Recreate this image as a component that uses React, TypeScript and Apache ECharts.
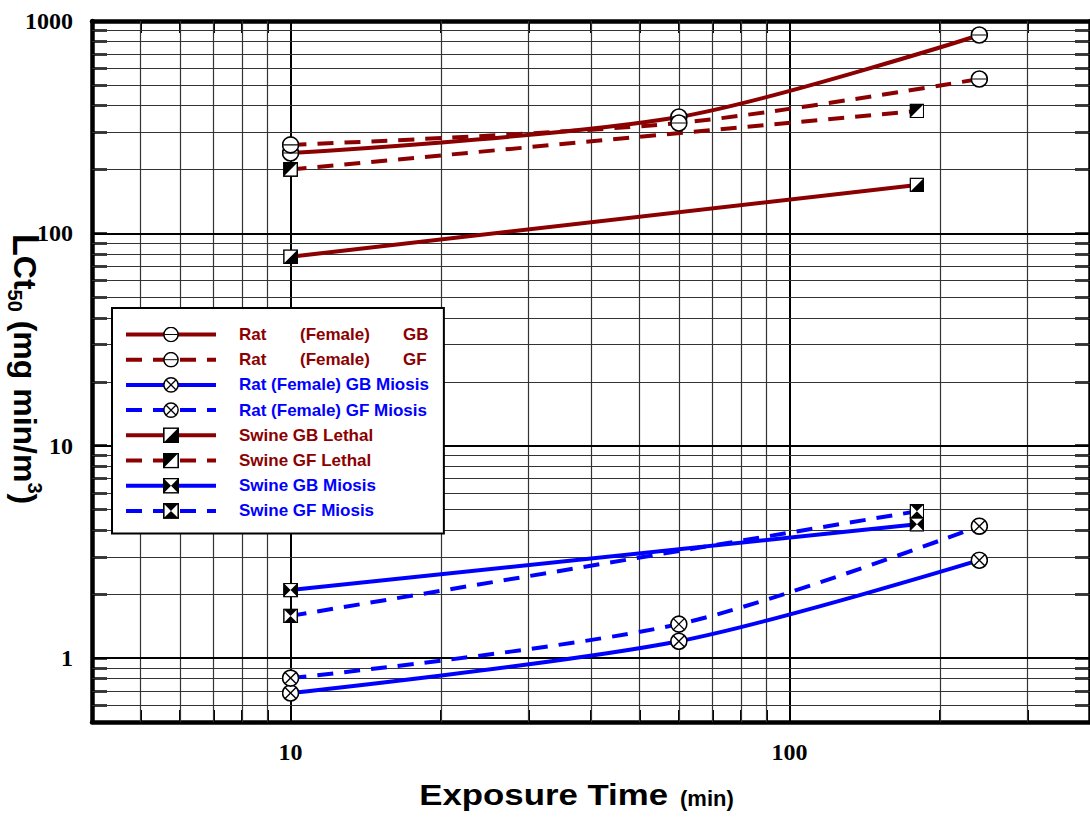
import React, { useEffect, useRef } from 'react';
import * as echarts from 'echarts';

// ---- data ----
const xRat = [10, 60, 240];
const xSwine = [10, 180];
const ratGB = [239, 353, 859];
const ratGF = [261, 331, 533];
const ratGBMiosis = [0.685, 1.2, 2.89];
const ratGFMiosis = [0.805, 1.445, 4.18];
const swineGBLethal = [77.6, 169];
const swineGFLethal = [200, 377];
const swineGBMiosis = [2.09, 4.27];
const swineGFMiosis = [1.58, 4.91];

const xGridMinor = [5, 6, 7, 8, 9, 20, 30, 40, 50, 60, 70, 80, 90, 200, 300];
const xGridMajor = [10, 100];
const yGridMinor = [0.6, 0.7, 0.8, 0.9, 2, 3, 4, 5, 6, 7, 8, 9, 20, 30, 40, 50, 60, 70, 80, 90, 200, 300, 400, 500, 600, 700, 800, 900];
const yGridMajor = [1, 10, 100];
const xTickLabels = [10, 100];
const yTickLabels = [1, 10, 100, 1000];

const RED = '#8b0000';
const BLUE = '#0000ff';

const svgSym = (body: string) =>
  'image://data:image/svg+xml;charset=utf-8,' +
  encodeURIComponent(`<svg xmlns="http://www.w3.org/2000/svg" width="40" height="40" viewBox="0 0 20 20">${body}</svg>`);

const CIRCLE = '<circle cx="10" cy="10" r="8.9" fill="#fff" stroke="#000" stroke-width="1.8"/>';
const SQUARE = '<rect x="1" y="1" width="18" height="18" fill="#fff" stroke="#000" stroke-width="2"/>';
const SYM = {
  circleMinus: svgSym(CIRCLE + '<line x1="1.5" y1="10" x2="18.5" y2="10" stroke="#000" stroke-width="1.2"/>'),
  circleX: svgSym(CIRCLE + '<line x1="3.9" y1="3.9" x2="16.1" y2="16.1" stroke="#000" stroke-width="1.5"/><line x1="16.1" y1="3.9" x2="3.9" y2="16.1" stroke="#000" stroke-width="1.5"/>'),
  sqLR: svgSym(SQUARE + '<polygon points="1,19 19,1 19,19" fill="#000"/>'),
  sqUL: svgSym(SQUARE + '<polygon points="1,1 19,1 1,19" fill="#000"/>'),
  bowH: svgSym(SQUARE + '<polygon points="1,1 10,10 1,19" fill="#000"/><polygon points="19,1 10,10 19,19" fill="#000"/>'),
  bowV: svgSym(SQUARE + '<polygon points="1,1 19,1 10,10" fill="#000"/><polygon points="1,19 19,19 10,10" fill="#000"/>'),
};

const isDecade = (v: number) => Math.abs(Math.log10(v) - Math.round(Math.log10(v))) < 1e-6;

const mkSeries = (name: string, xs: number[], ys: number[], color: string, dashed: boolean, symbol: string, size: number, smooth: number) => ({
  name,
  type: 'line',
  data: xs.map((x, i) => [x, ys[i]]),
  symbol,
  symbolSize: size,
  smooth,
  showAllSymbol: true,
  lineStyle: { color, width: 4, type: dashed ? [16, 11] : 'solid' },
  itemStyle: { color },
  emphasis: { disabled: true },
  z: 3,
});

export default function App() {
  const ref = useRef<HTMLDivElement>(null);
  useEffect(() => {
    if (!ref.current) return;
    const chart = echarts.init(ref.current, undefined, { renderer: 'svg' });
    const minorX = { color: '#333', width: 1.2, type: 'solid' };
    const majorX = { color: '#000', width: 2, type: 'solid' };
    const gridData: any[] = [
      ...xGridMinor.map((v) => ({ xAxis: v, lineStyle: minorX })),
      ...xGridMajor.map((v) => ({ xAxis: v, lineStyle: majorX })),
      ...yGridMinor.map((v) => ({ yAxis: v, lineStyle: minorX })),
      ...yGridMajor.map((v) => ({ yAxis: v, lineStyle: majorX })),
    ];
    const xTickVals = [...xGridMinor, ...xGridMajor].sort((a, b) => a - b);
    const yTickVals = [...yGridMinor, ...yGridMajor].sort((a, b) => a - b);
    const labelFont = { fontFamily: 'Liberation Serif', fontWeight: 'bold', fontSize: 24, color: '#000' };
    const legFont = { fontFamily: 'Liberation Sans', fontWeight: 'bold', fontSize: 17 };
    const baseX = {
      type: 'log', logBase: 10, min: 4, max: 400,
      axisLine: { show: true, lineStyle: { color: '#000', width: 4.5 } },
      axisTick: { show: true, inside: true, length: 12, lineStyle: { color: '#000', width: 2 }, customValues: xTickVals },
      splitLine: { show: false },
      minorTick: { show: false },
    };
    const baseY = {
      type: 'log', logBase: 10, min: 0.5, max: 1000,
      axisLine: { show: true, lineStyle: { color: '#000', width: 4.5 } },
      axisTick: { show: true, inside: true, length: 15, lineStyle: { color: '#000', width: 2.5 }, customValues: yTickVals },
      splitLine: { show: false },
      minorTick: { show: false },
    };
    const redNames = ['Swine GB Lethal', 'Swine GF Lethal'];
    const legendNames = [
      { name: 'Rat (Female) GB', color: RED },
      { name: 'Rat (Female) GF', color: RED },
      { name: 'Rat (Female) GB Miosis', color: BLUE },
      { name: 'Rat (Female) GF Miosis', color: BLUE },
      { name: 'Swine GB Lethal', color: RED },
      { name: 'Swine GF Lethal', color: RED },
      { name: 'Swine GB Miosis', color: BLUE },
      { name: 'Swine GF Miosis', color: BLUE },
    ];
    chart.setOption({
      animation: false,
      backgroundColor: '#fff',
      grid: { left: 92, right: 0, top: 21, bottom: 97, containLabel: false },
      xAxis: [
        {
          ...baseX, position: 'bottom',
          axisLabel: { ...labelFont, margin: 18, formatter: (v: number) => (isDecade(v) && xTickLabels.some((t) => Math.abs(t - v) < 1e-6) ? String(Math.round(v)) : '') },
        },
        { ...baseX, position: 'top', axisLabel: { show: false } },
      ],
      yAxis: [
        {
          ...baseY, position: 'left',
          axisLabel: { ...labelFont, margin: 19, formatter: (v: number) => (isDecade(v) && yTickLabels.some((t) => Math.abs(t - v) < 1e-6) ? String(Math.round(v)) : '') },
        },
        { ...baseY, position: 'right', axisLabel: { show: false } },
      ],
      legend: {
        orient: 'vertical',
        left: 112,
        top: 308,
        padding: [18, 15, 14, 12],
        itemWidth: 90,
        itemHeight: 20,
        itemGap: 8.2,
        backgroundColor: '#fff',
        borderColor: '#000',
        borderWidth: 2,
        borderRadius: 0,
        selectedMode: false,
        z: 10,
        lineStyle: { width: 4 },
        data: legendNames.map((l) => ({ name: l.name, textStyle: { color: l.color } })),
        formatter: (name: string) => {
          if (name === 'Rat (Female) GB') return '{g|}{ra|Rat}{rb|(Female)}{rc|GB}';
          if (name === 'Rat (Female) GF') return '{g|}{ra|Rat}{rb|(Female)}{rc|GF}';
          const red = redNames.includes(name);
          return `{g|}{${red ? 'r' : 'b'}|${name}}`;
        },
        textStyle: {
          ...legFont,
          rich: {
            g: { width: 18 },
            r: { ...legFont, color: RED },
            b: { ...legFont, color: BLUE },
            ra: { ...legFont, color: RED, width: 61 },
            rb: { ...legFont, color: RED, width: 103 },
            rc: { ...legFont, color: RED },
          },
        },
      },
      graphic: [
        {
          type: 'text',
          x: 668,
          y: 795,
          scaleX: 1.16,
          style: {
            text: 'Exposure Time',
            align: 'right',
            verticalAlign: 'middle',
            fontFamily: 'Liberation Sans', fontWeight: 'bold', fontSize: 30, fill: '#000',
          },
        },
        {
          type: 'text',
          x: 680,
          y: 798,
          style: {
            text: '(min)',
            align: 'left',
            verticalAlign: 'middle',
            fontFamily: 'Liberation Sans', fontWeight: 'bold', fontSize: 22, fill: '#000',
          },
        },
        {
          type: 'text',
          x: 25,
          y: 369,
          rotation: -Math.PI / 2,
          style: {
            text: '{l|L}{m|Ct}{s|50}{m| (mg min/m}{p|3}{m|)}',
            align: 'center',
            verticalAlign: 'middle',
            rich: {
              l: { fontFamily: 'Liberation Sans', fontWeight: 'bold', fontSize: 36, lineHeight: 40, fill: '#000' },
              m: { fontFamily: 'Liberation Sans', fontWeight: 'bold', fontSize: 32, lineHeight: 40, fill: '#000' },
              s: { fontFamily: 'Liberation Sans', fontWeight: 'bold', fontSize: 20, lineHeight: 20, verticalAlign: 'bottom', fill: '#000' },
              p: { fontFamily: 'Liberation Sans', fontWeight: 'bold', fontSize: 20, lineHeight: 20, verticalAlign: 'top', fill: '#000' },
            },
          },
        },
      ],
      series: [
        {
          name: '__grid',
          type: 'line',
          data: [],
          silent: true,
          z: 1,
          markLine: {
            silent: true,
            z: 1,
            symbol: ['none', 'none'],
            label: { show: false },
            emphasis: { disabled: true },
            animation: false,
            data: gridData,
          },
        },
        mkSeries('Rat (Female) GB', xRat, ratGB, RED, false, SYM.circleMinus, 18, 0.3),
        mkSeries('Rat (Female) GF', xRat, ratGF, RED, true, SYM.circleMinus, 18, 0.3),
        mkSeries('Rat (Female) GB Miosis', xRat, ratGBMiosis, BLUE, false, SYM.circleX, 18, 0.3),
        mkSeries('Rat (Female) GF Miosis', xRat, ratGFMiosis, BLUE, true, SYM.circleX, 18, 0.3),
        mkSeries('Swine GB Lethal', xSwine, swineGBLethal, RED, false, SYM.sqLR, 15, 0),
        mkSeries('Swine GF Lethal', xSwine, swineGFLethal, RED, true, SYM.sqUL, 15, 0),
        mkSeries('Swine GB Miosis', xSwine, swineGBMiosis, BLUE, false, SYM.bowH, 15, 0),
        mkSeries('Swine GF Miosis', xSwine, swineGFMiosis, BLUE, true, SYM.bowV, 15, 0),
      ],
    });
    return () => chart.dispose();
  }, []);
  return (
    <div style={{ position: 'absolute', left: 0, top: 0, width: 1090, height: 819, overflow: 'hidden', background: '#fff' }}>
      <div ref={ref} style={{ width: 1093, height: 819 }} />
    </div>
  );
}
